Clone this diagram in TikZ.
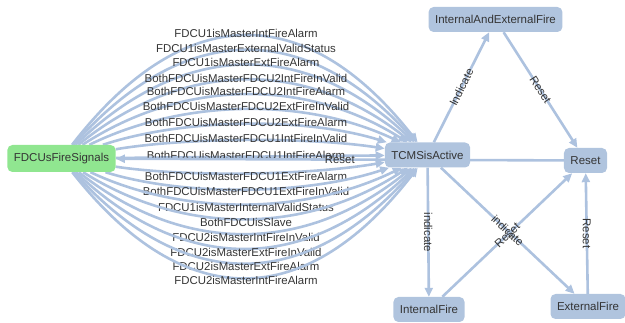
\documentclass[tikz,border=0pt]{standalone}
\usepackage{fontspec}
\setmainfont{Liberation Sans}
\usetikzlibrary{arrows.meta}
\pgfdeclarelayer{edgelayer}
\pgfsetlayers{edgelayer,main}
\definecolor{nodeblue}{HTML}{B0C4DE}
\definecolor{edgeblue}{HTML}{ADC2DF}
\definecolor{nodegreen}{HTML}{90E690}
\definecolor{txtcol}{HTML}{343434}
\begin{document}
\begin{tikzpicture}[x=1pt,y=-1pt,
  box/.style={rounded corners=5pt, fill=nodeblue, text=txtcol, font=\fontsize{11.5}{13}\selectfont, minimum height=25pt, inner xsep=6.5pt, inner ysep=0pt},
  edge/.style={draw=edgeblue, line width=2.6pt, -{Triangle[length=9pt,width=8pt]}},
  lbl/.style={text=txtcol, font=\fontsize{11.4}{13}\selectfont, inner sep=0pt}]
\useasboundingbox (0,0) rectangle (625,323);
\node[box, fill=nodegreen, minimum height=27pt] (f) at (61.5,158.5) {FDCUsFireSignals};
\node[box] (t) at (427.5,155) {TCMSisActive};
\node[box] (ie) at (495.5,19.5) {InternalAndExternalFire};
\node[box] (r) at (585.5,160.5) {Reset};
\node[box] (i) at (429,309.5) {InternalFire};
\node[box] (e) at (588,306.5) {ExternalFire};
\begin{pgfonlayer}{edgelayer}
\foreach \k/\ly/\txt in {
  1/33/FDCU1isMasterIntFireAlarm,
  2/48/FDCU1isMasterExternalValidStatus,
  3/62/FDCU1isMasterExtFireAlarm,
  4/78/BothFDCUisMasterFDCU2IntFireInValid,
  5/91/BothFDCUisMasterFDCU2IntFireAlarm,
  6/106/BothFDCUisMasterFDCU2ExtFireInValid,
  7/122/BothFDCUisMasterFDCU2ExtFireAlarm,
  8/138/BothFDCUisMasterFDCU1IntFireInValid,
  9/155/BothFDCUisMasterFDCU1IntFireAlarm,
  10/176/BothFDCUisMasterFDCU1ExtFireAlarm,
  11/191/BothFDCUisMasterFDCU1ExtFireInValid,
  12/207/FDCU1isMasterInternalValidStatus,
  13/222/BothFDCUisSlave,
  14/237/FDCU2isMasterIntFireInValid,
  15/252/FDCU2isMasterExtFireInValid,
  16/266/FDCU2isMasterExtFireAlarm,
  17/280/FDCU2isMasterIntFireAlarm}{
  \pgfmathsetmacro\cy{156.75+29.4*(\k-9)}
  \pgfmathsetmacro\ca{158.5+2/3*(\cy-158.5)}
  \pgfmathsetmacro\cb{155+2/3*(\cy-155)}
  \draw[edge] (f) .. controls (183.5,\ca) and (305.5,\cb) .. (t);
  \node[lbl] (l\k) at (246,\ly) {\txt};
}
\draw[edge] (t) -- node[lbl, rotate=63.4] {Indicate} (ie);
\draw[edge] (ie) -- node[lbl, rotate=-57.5] {Reset} (r);
\draw[edge] (t) -- node[lbl, rotate=-90] {indicate} (i);
\draw[edge] (t) -- node[lbl, rotate=-43.3] {indicate} (e);
\draw[edge] (i) -- node[lbl, rotate=43.6] {Reset} (r);
\draw[edge] (e) -- node[lbl, rotate=-90] {Reset} (r);
\draw[edge] (r) -- node[lbl] {Reset} (f);
\end{pgfonlayer}
\end{tikzpicture}
\end{document}
